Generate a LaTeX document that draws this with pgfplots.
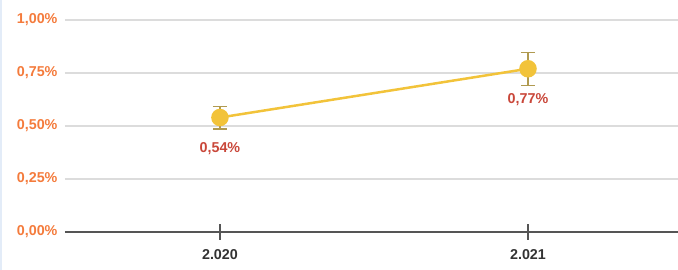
\documentclass[border=0pt]{standalone}
\usepackage{pgfplots}
\pgfplotsset{compat=1.18}
\usepackage{fontspec}
\setmainfont{Liberation Sans}
\definecolor{ylw}{HTML}{F2C33A}
\definecolor{errc}{HTML}{B09A50}
\definecolor{lblred}{HTML}{C9473A}
\definecolor{tickorange}{HTML}{F47B3C}
\definecolor{gridc}{HTML}{DCDCDC}
\definecolor{axisc}{HTML}{555555}
\definecolor{xlab}{HTML}{333333}
\definecolor{edge}{HTML}{E3ECF8}
\pgfplotstableread{
x y ep em lab
0 0.54 0.052 0.053 {0,54\%}
1 0.77 0.077 0.080 {0,77\%}
}\datatab
\begin{document}
\begin{tikzpicture}
\begin{axis}[
  name=ax,
  scale only axis, width=613pt, height=212pt,
  xmin=-0.503, xmax=1.487, ymin=0, ymax=1,
  axis x line*=bottom, axis y line*=left,
  y axis line style={draw=none},
  x axis line style={axisc, line width=1.3pt},
  xtick={0,1}, xticklabels={2.020,2.021},
  ytick={0,0.25,0.5,0.75,1},
  yticklabels={{0,00\%},{0,25\%},{0,50\%},{0,75\%},{1,00\%}},
  ymajorgrids, grid style={gridc, line width=1.2pt},
  ytick style={draw=none},
  xtick style={axisc, line width=1.3pt},
  xtick align=center, major tick length=16pt,
  yticklabel style={tickorange, font=\fontsize{14.3}{16}\selectfont\bfseries, xshift=-4pt},
  xticklabel style={xlab, font=\fontsize{14.3}{16}\selectfont\bfseries, yshift=-6pt},
  clip=false,
]
\addplot[ylw, line width=2.5pt, mark=*, mark size=7.5pt,
  mark options={fill=ylw, draw=ylw},
  nodes near coords, point meta=explicit symbolic,
  every node near coord/.append style={lblred, font=\fontsize{14.3}{16}\selectfont\bfseries, anchor=center, yshift=-31pt},
  error bars/.cd, y dir=both, y explicit,
  error bar style={errc, line width=1.5pt},
  error mark options={errc, mark size=7pt, line width=1.5pt, rotate=90}]
  table[x=x, y=y, y error plus=ep, y error minus=em, meta=lab] {\datatab};
\end{axis}
\pgfresetboundingbox
\path[use as bounding box] ([xshift=-65pt,yshift=-38pt]ax.south west) rectangle ([yshift=20pt]ax.north east);
\fill[edge] ([xshift=-65pt,yshift=-38pt]ax.south west) rectangle ([xshift=-63pt,yshift=20pt]ax.north west);
\end{tikzpicture}
\end{document}
